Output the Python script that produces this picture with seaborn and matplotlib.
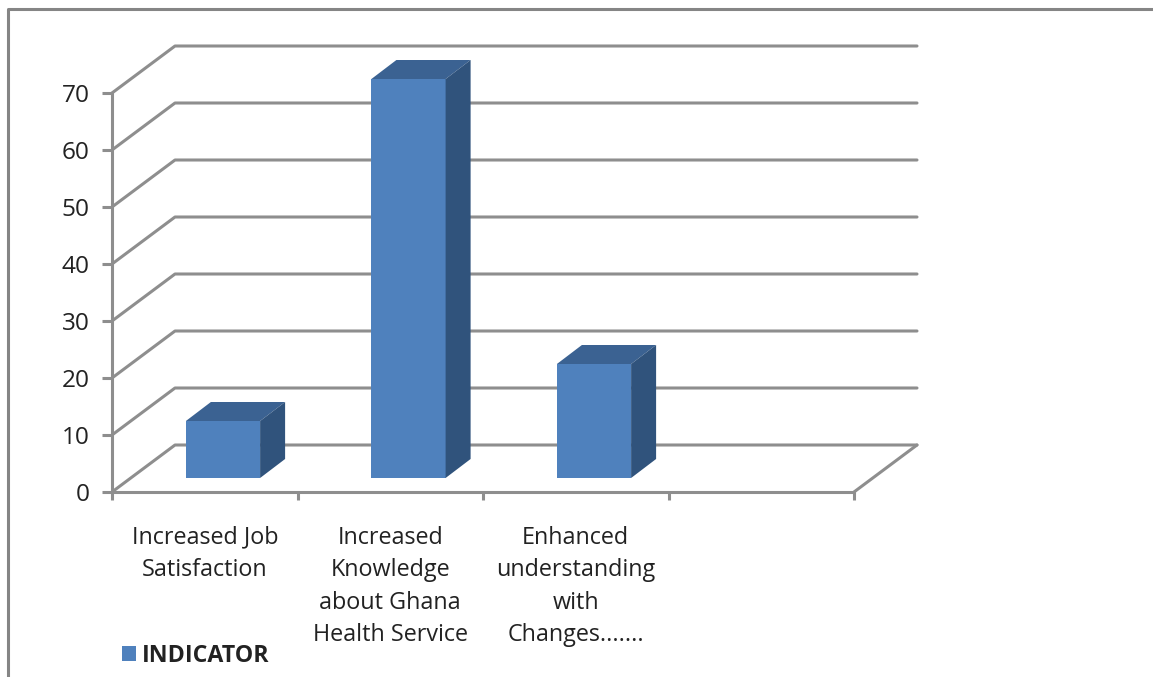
import matplotlib
matplotlib.use("Agg")
import matplotlib.pyplot as plt
import seaborn as sns
import pandas as pd
from matplotlib.lines import Line2D
from matplotlib.patches import Polygon
from matplotlib.transforms import Affine2D, IdentityTransform

categories = ["Increased Job\nSatisfaction",
              "Increased\nKnowledge\nabout Ghana\nHealth Service",
              "Enhanced\nunderstanding\nwith\nChanges.......",
              " "]
values = [10, 70, 20, None]
series_name = "INDICATOR"
y_ticks = [0, 10, 20, 30, 40, 50, 60, 70]

FRONT, TOP, SIDE = "#4F81BD", "#3B6292", "#30537C"
GREY = "#8E8E8E"
W, H = 1153, 677
FONT = "Open Sans"
FS = 16.8

sns.set_theme(style="white")
plt.rcParams["font.family"] = FONT

fig = plt.figure(figsize=(W / 100, H / 100), dpi=100)
ax = fig.add_axes([112 / W, (H - 492) / H, 742 / W, 399 / H])

df = pd.DataFrame({"cat": categories, "val": values})
sns.barplot(data=df, x="cat", y="val", order=categories, color=FRONT, saturation=1,
            width=0.4, label=series_name, ax=ax, linewidth=0, zorder=3)
ax.set_xlim(-0.5, 3.5)
ax.set_ylim(0, 70)
ax.set_xlabel("")
ax.set_ylabel("")
ax.set_yticks(y_ticks)
ax.set_xticks(range(len(categories)))
ax.set_xticklabels(categories, fontsize=FS, color="#222222", linespacing=1.47, va="top")
ax.set_xticks([0.5 + i - 1 for i in range(5)], minor=True)
ax.tick_params(axis="x", which="major", length=0, pad=24.2)
ax.tick_params(axis="x", which="minor", bottom=True, length=6, width=2.2, color=GREY)
ax.tick_params(axis="y", which="major", left=False, pad=10.2,
               labelsize=17.6, labelcolor="#222222")
sns.despine(ax=ax)
for s in ("left", "bottom"):
    ax.spines[s].set_color(GREY)
    ax.spines[s].set_linewidth(2.2)
    ax.spines[s].set_zorder(4)

# y tick marks, drawn in axes-fraction x so that they sit outside the spine
tick_trans = ax.get_yaxis_transform()
TICK_LEN = 10 / 742
for v in y_ticks:
    ax.add_line(Line2D([-TICK_LEN, 0], [v, v], transform=tick_trans, color=GREY,
                       lw=2.2, clip_on=False, zorder=4, solid_capstyle="butt"))

# 3-D look: depth of the chart floor and of the bars, in pixels
WALL_DX, WALL_DY = 63, 47
BAR_DX, BAR_DY = 18.25, 14
DEPTH_DX, DEPTH_DY = 25, 19
fig.canvas.draw()
to_px = ax.transData.transform

ident = IdentityTransform()
x0, x1 = ax.get_xlim()
for v in y_ticks:
    (px0, py), (px1, _) = to_px([(x0, v), (x1, v)])
    ax.add_line(Line2D([px0, px0 + WALL_DX, px1 + WALL_DX],
                       [py, py + WALL_DY, py + WALL_DY],
                       transform=ident, color=GREY, lw=2.2, clip_on=False, zorder=1))
(px1, py) = to_px((x1, 0))
ax.add_line(Line2D([px1, px1 + WALL_DX], [py, py + WALL_DY], transform=ident,
                   color=GREY, lw=2.2, clip_on=False, zorder=1))

shift = Affine2D().translate(BAR_DX, BAR_DY)
for p in list(ax.patches):
    h = p.get_height()
    if h != h or h == 0:
        continue
    a = to_px((p.get_x(), p.get_y()))
    b = to_px((p.get_x() + p.get_width(), p.get_y() + h))
    l, r = a[0] + BAR_DX, b[0] + BAR_DX
    bt, tp = a[1] + BAR_DY, b[1] + BAR_DY
    p.set_transform(ax.transData + shift)
    p.set_clip_on(False)
    ax.add_patch(Polygon([(l, tp), (r, tp), (r + DEPTH_DX, tp + DEPTH_DY), (l + DEPTH_DX, tp + DEPTH_DY)],
                         transform=ident, fc=TOP, ec="none", clip_on=False, zorder=3))
    ax.add_patch(Polygon([(r, bt), (r + DEPTH_DX, bt + DEPTH_DY), (r + DEPTH_DX, tp + DEPTH_DY), (r, tp)],
                         transform=ident, fc=SIDE, ec="none", clip_on=False, zorder=3))

# outer frame
fig.add_artist(Line2D([7.5 / W, 7.5 / W, 1], [0, (H - 9) / H, (H - 9) / H],
                      color="#858585", lw=2.2, transform=fig.transFigure))

leg = ax.legend(loc="lower left", bbox_to_anchor=(122 / W, (H - 668) / H),
                bbox_transform=fig.transFigure, frameon=False, borderpad=0, borderaxespad=0,
                handlelength=0.62, handleheight=0.62, handletextpad=0.22,
                prop={"family": FONT, "weight": "bold", "size": 16.7})
for t in leg.get_texts():
    t.set_color("#222222")

fig.savefig("out.png", dpi=100, facecolor="white")
